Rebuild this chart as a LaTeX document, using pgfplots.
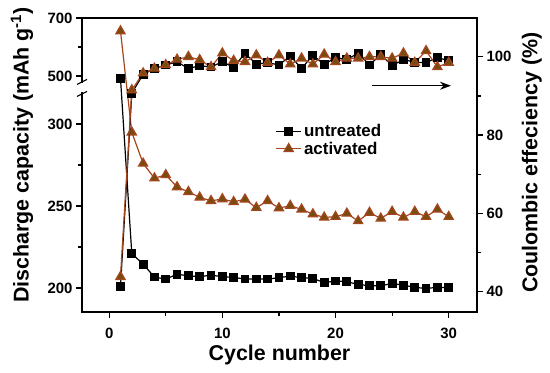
\documentclass[border=0pt]{standalone}
\usepackage{pgfplots}
\pgfplotsset{compat=1.18}
\usepackage{pgfplotstable}
\usepackage{fontspec}
\setmainfont{Liberation Sans}
\usetikzlibrary{arrows.meta}
\definecolor{actline}{RGB}{165,70,30}
\definecolor{actfill}{RGB}{120,75,15}

\pgfplotstableread{
c u a
1 492 655
2 221 295
3 214.6 276
4 206.7 267
5 205.5 269
6 208.4 261.6
7 207.5 258.7
8 206.9 255.3
9 207.9 253.2
10 206.9 254.3
11 206.5 252.6
12 205.5 254.1
13 205.5 249
14 205.5 253.2
15 206.3 248.8
16 207.3 250.2
17 206.3 248
18 205.9 245.1
19 203.3 243.1
20 204.3 243.5
21 203.9 245.5
22 202.2 240.9
23 201.4 246.0
24 201.4 242.5
25 202.8 246.6
26 201.8 243.1
27 200.4 246.6
28 199.8 243.5
29 200.4 248
30 200.2 243.5
}\disch

\pgfplotstableread{
c u a
1 41.3 43.8
2 90.7 91.5
3 95.5 95.8
4 97.0 97.0
5 97.9 97.9
6 98.7 99.3
7 97.0 100.0
8 97.7 99.2
9 97.4 97.4
10 98.7 100.9
11 97.3 99.0
12 100.9 98.7
13 98.1 100.4
14 98.5 98.5
15 97.9 100.4
16 100.2 98.1
17 97.0 99.6
18 100.4 98.1
19 98.0 100.6
20 99.8 98.7
21 99.3 99.6
22 100.9 99.6
23 97.9 100.0
24 100.6 100.0
25 97.7 99.6
26 99.3 100.9
27 98.6 98.5
28 98.5 101.5
29 99.8 97.4
30 99.0 98.5
}\ce

\begin{document}
\begin{tikzpicture}
\pgfplotsset{
  every axis/.append style={
    scale only axis, width=395bp, height=294bp,
    xmin=-2.4, xmax=32.5,
    axis line style={line width=1.5bp},
    tick align=outside,
    major tick length=6bp, minor tick length=4bp,
    every tick/.style={black, line width=1.2bp},
    tick label style={font=\fontsize{15}{15}\selectfont\bfseries},
    /pgf/number format/assume math mode=true,
    label style={font=\fontsize{21.5}{21.5}\selectfont\bfseries},
    clip=false,
  }
}
\begin{axis}[name=ax,
  ymin=185.4, ymax=364.7,
  xtick={0,10,20,30}, minor xtick={5,15,25},
  xtick pos=bottom, ytick pos=left,
  xticklabel style={yshift=-7bp},
  ytick={200,250,300,329.3,364.7},
  yticklabels={200,250,300,500,700},
  minor ytick={225,275,347.0},
  xlabel={Cycle number},
  xlabel style={at={(axis description cs:0.5,-0.146)}, anchor=center},
  ylabel={Discharge capacity (mAh g\textsuperscript{-1})},
  ylabel style={at={(axis description cs:-0.152,0.534)}, anchor=center},
  legend cell align=left,
  legend image code/.code={\draw[mark repeat=2,mark phase=2,#1] plot coordinates {(0cm,0cm) (0.45cm,0cm) (0.9cm,0cm)};},
  legend style={draw=none, fill=none, at={(axis description cs:0.489,0.585)}, anchor=west,
    row sep=0bp, inner xsep=0bp},
]
\addplot[black, line width=1.2bp, mark=square*, mark size=3.8bp, mark options={solid, fill=black}]
  table[x=c, y expr={\thisrow{u}>400 ? 322+(\thisrow{u}-458.6)*0.1768 : \thisrow{u}}] {\disch};
\addlegendentry{\scalebox{1.7}{\bfseries untreated}}
\addplot[actline, line width=1.2bp, mark=triangle*, mark size=5.3bp, mark options={solid, fill=actfill, draw=actline}]
  table[x=c, y expr={\thisrow{a}>400 ? 322+(\thisrow{a}-458.6)*0.1768 : \thisrow{a}}] {\disch};
\addlegendentry{\scalebox{1.7}{\bfseries activated}}
% axis break
\fill[white] ([xshift=-3bp]axis cs:-2.4,319.3) rectangle ([xshift=3bp]axis cs:-2.4,324.8);
\draw[line width=1.2bp] ([xshift=-5bp,yshift=-4bp]axis cs:-2.4,319.3) -- ++(10bp,5bp);
\draw[line width=1.2bp] ([xshift=-5bp,yshift=-1bp]axis cs:-2.4,324.8) -- ++(10bp,5bp);
\end{axis}
\begin{axis}[
  ymin=34.8, ymax=109.9,
  axis y line*=right, axis x line=none,
  ytick={40,60,80,100}, minor ytick={50,70,90},
  ylabel={Coulombic effeciency (\%)},
  ylabel style={at={(axis description cs:1.139,0.508)}, anchor=center},
]
\addplot[black, line width=1.2bp, mark=square*, mark size=3.8bp, mark options={solid, fill=black}]
  table[x=c, y=u] {\ce};
\addplot[actline, line width=1.2bp, mark=triangle*, mark size=5.3bp, mark options={solid, fill=actfill, draw=actline}]
  table[x=c, y=a] {\ce};
\draw[line width=1.5bp, -{Stealth[length=11bp,width=8bp]}] (axis cs:23.2,92.6) -- (axis cs:30.2,92.6);
\end{axis}
\pgfresetboundingbox
\path ([xshift=-82bp,yshift=-61bp]ax.south west) rectangle ++(550bp,373bp);
\end{tikzpicture}
\end{document}
